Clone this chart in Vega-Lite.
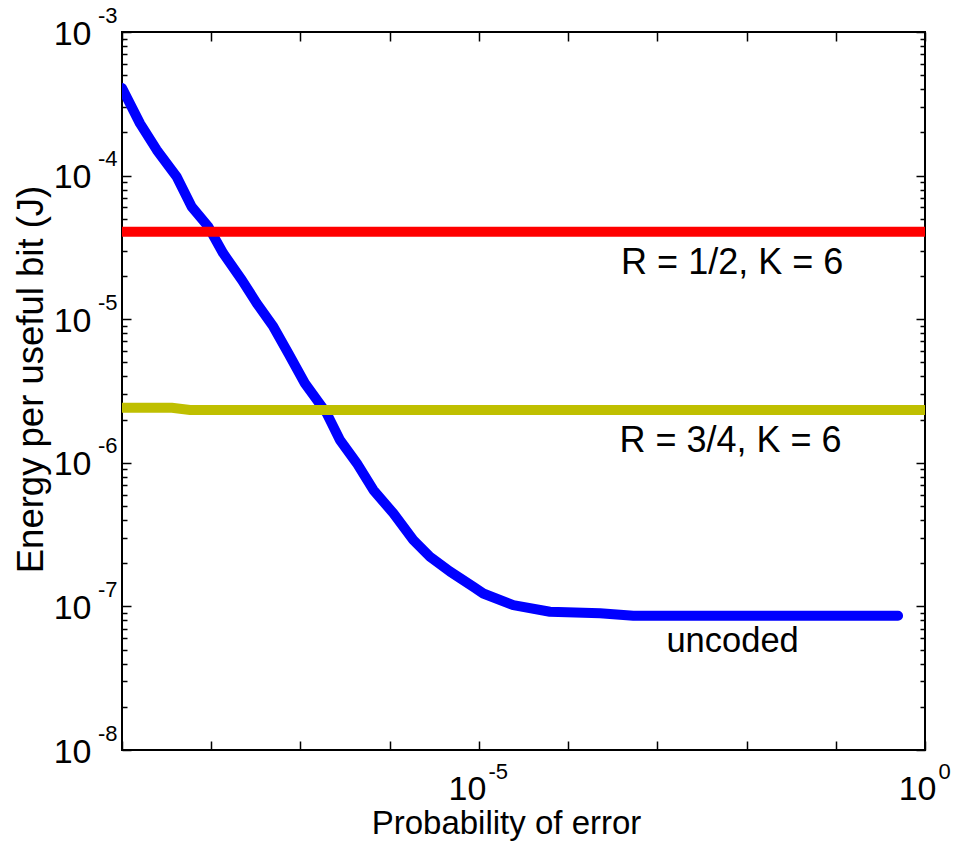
{
  "$schema": "https://vega.github.io/schema/vega-lite/v6.json",
  "width": 803,
  "height": 718,
  "autosize": {"type": "none"},
  "padding": {"left": 122, "top": 32, "right": 31, "bottom": 91},
  "background": "white",
  "config": {
    "font": "Liberation Sans",
    "view": {"stroke": "black", "strokeWidth": 2},
    "axis": {
      "grid": false, "domain": false, "tickColor": "black", "tickWidth": 1.5,
      "labelColor": "black", "titleColor": "black", "labelFont": "Liberation Sans", "titleFont": "Liberation Sans",
      "labelFlush": false, "labelOverlap": false, "labelBound": false, "titleFontWeight": "normal"
    }
  },
  "datasets": {
    "uncoded": [
      {"x": 1e-9, "y": 4.07e-4},
      {"x": 1.59e-9, "y": 2.31e-4},
      {"x": 2.45e-9, "y": 1.51e-4},
      {"x": 4.10e-9, "y": 9.82e-5},
      {"x": 6.04e-9, "y": 6.07e-5},
      {"x": 9.27e-9, "y": 4.41e-5},
      {"x": 1.36e-8, "y": 2.88e-5},
      {"x": 2.20e-8, "y": 1.88e-5},
      {"x": 3.24e-8, "y": 1.29e-5},
      {"x": 4.97e-8, "y": 8.87e-6},
      {"x": 7.31e-8, "y": 5.79e-6},
      {"x": 1.12e-7, "y": 3.58e-6},
      {"x": 1.97e-7, "y": 2.21e-6},
      {"x": 2.77e-7, "y": 1.44e-6},
      {"x": 4.28e-7, "y": 9.93e-7},
      {"x": 6.56e-7, "y": 6.47e-7},
      {"x": 1.10e-6, "y": 4.45e-7},
      {"x": 1.84e-6, "y": 2.90e-7},
      {"x": 2.83e-6, "y": 2.22e-7},
      {"x": 4.74e-6, "y": 1.75e-7},
      {"x": 8.65e-6, "y": 1.37e-7},
      {"x": 1.12e-5, "y": 1.23e-7},
      {"x": 2.43e-5, "y": 1.02e-7},
      {"x": 6.26e-5, "y": 9.18e-8},
      {"x": 2.28e-4, "y": 8.95e-8},
      {"x": 5.38e-4, "y": 8.61e-8},
      {"x": 7.05e-3, "y": 8.61e-8},
      {"x": 0.499, "y": 8.61e-8}
    ],
    "half": [
      {"x": 1e-9, "y": 4.06e-5},
      {"x": 1, "y": 4.06e-5}
    ],
    "threequarter": [
      {"x": 1e-9, "y": 2.42e-6},
      {"x": 3.63e-9, "y": 2.42e-6},
      {"x": 5.78e-9, "y": 2.33e-6},
      {"x": 1, "y": 2.33e-6}
    ],
    "notes": [
      {"label": "R = 1/2, K = 6", "x": 6.9e-3, "y": 2.06e-5},
      {"label": "R = 3/4, K = 6", "x": 6.6e-3, "y": 1.19e-6}
    ],
    "notes2": [
      {"label": "uncoded", "x": 6.97e-3, "y": 4.81e-8}
    ]
  },
  "resolve": {"axis": {"x": "independent", "y": "independent"}},
  "layer": [
    {
      "data": {"name": "uncoded"},
      "mark": {"type": "line", "color": "#0000ff", "strokeWidth": 10, "strokeCap": "round", "strokeJoin": "round", "clip": true},
      "encoding": {
        "x": {
          "field": "x", "type": "quantitative",
          "scale": {"type": "log", "domain": [1e-9, 1], "nice": false},
          "axis": {
            "orient": "bottom",
            "values": [1e-9, 1e-8, 1e-7, 1e-6, 1e-5, 1e-4, 1e-3, 1e-2, 1e-1, 1],
            "tickSize": -9,
            "labelExpr": "(round(log(datum.value)/LN10) == -5 || round(log(datum.value)/LN10) == 0) ? '10' : ''",
            "labelFontSize": 34, "labelAlign": "right", "labelBaseline": "alphabetic",
            "labelOffset": {"condition": {"test": "datum.value > 0.5", "value": 11}, "value": 7},
            "labelPadding": 58,
            "title": "Probability of error", "titleFontSize": 33, "titleX": 384, "titleY": 83,
            "titleAlign": "center", "titleBaseline": "alphabetic"
          }
        },
        "y": {
          "field": "y", "type": "quantitative",
          "scale": {"type": "log", "domain": [1e-8, 1e-3], "nice": false},
          "axis": {
            "orient": "left",
            "values": [1e-8, 1e-7, 1e-6, 1e-5, 1e-4, 1e-3],
            "tickSize": -9,
            "labelExpr": "'10'",
            "labelFontSize": 34, "labelAlign": "right", "labelBaseline": "alphabetic", "labelOffset": 12, "labelPadding": 40,
            "title": "Energy per useful bit (J)", "titleFontSize": 36.5, "titleX": -80, "titleY": 347,
            "titleAlign": "center", "titleBaseline": "alphabetic", "titleAngle": 270
          }
        }
      }
    },
    {
      "data": {"name": "half"},
      "mark": {"type": "line", "color": "#ff0000", "strokeWidth": 10, "clip": true},
      "encoding": {
        "x": {
          "field": "x", "type": "quantitative",
          "scale": {"type": "log", "domain": [1e-9, 1], "nice": false},
          "axis": {
            "orient": "bottom", "values": [1e-5, 1], "ticks": false, "tickSize": 0,
            "labelExpr": "'' + round(log(datum.value)/LN10)",
            "labelFontSize": 22, "labelAlign": "left", "labelBaseline": "alphabetic",
            "labelOffset": {"condition": {"test": "datum.value > 0.5", "value": 13}, "value": 9},
            "labelPadding": 28,
            "title": null
          }
        },
        "y": {
          "field": "y", "type": "quantitative",
          "scale": {"type": "log", "domain": [1e-8, 1e-3], "nice": false},
          "axis": {
            "orient": "left",
            "values": [2e-8, 3e-8, 4e-8, 5e-8, 6e-8, 7e-8, 8e-8, 9e-8, 2e-7, 3e-7, 4e-7, 5e-7, 6e-7, 7e-7, 8e-7, 9e-7, 2e-6, 3e-6, 4e-6, 5e-6, 6e-6, 7e-6, 8e-6, 9e-6, 2e-5, 3e-5, 4e-5, 5e-5, 6e-5, 7e-5, 8e-5, 9e-5, 2e-4, 3e-4, 4e-4, 5e-4, 6e-4, 7e-4, 8e-4, 9e-4],
            "tickSize": -5, "labels": false, "title": null
          }
        }
      }
    },
    {
      "data": {"name": "threequarter"},
      "mark": {"type": "line", "color": "#bfbf00", "strokeWidth": 10, "clip": true},
      "encoding": {
        "x": {
          "field": "x", "type": "quantitative",
          "scale": {"type": "log", "domain": [1e-9, 1], "nice": false},
          "axis": {
            "orient": "top",
            "values": [1e-9, 1e-8, 1e-7, 1e-6, 1e-5, 1e-4, 1e-3, 1e-2, 1e-1, 1],
            "tickSize": -9, "labels": false, "title": null
          }
        },
        "y": {
          "field": "y", "type": "quantitative",
          "scale": {"type": "log", "domain": [1e-8, 1e-3], "nice": false},
          "axis": {
            "orient": "left",
            "values": [1e-8, 1e-7, 1e-6, 1e-5, 1e-4, 1e-3],
            "ticks": false, "tickSize": 0,
            "labelExpr": "'' + round(log(datum.value)/LN10)",
            "labelFontSize": 22, "labelAlign": "right", "labelBaseline": "alphabetic", "labelOffset": -10, "labelPadding": 5,
            "title": null
          }
        }
      }
    },
    {
      "data": {"name": "notes"},
      "mark": {"type": "text", "fontSize": 36, "align": "center", "baseline": "alphabetic", "color": "black"},
      "encoding": {
        "text": {"field": "label"},
        "x": {"field": "x", "type": "quantitative", "scale": {"type": "log", "domain": [1e-9, 1], "nice": false}, "axis": null},
        "y": {
          "field": "y", "type": "quantitative",
          "scale": {"type": "log", "domain": [1e-8, 1e-3], "nice": false},
          "axis": {
            "orient": "right",
            "values": [1e-8, 1e-7, 1e-6, 1e-5, 1e-4, 1e-3],
            "tickSize": -9, "labels": false, "title": null
          }
        }
      }
    },
    {
      "data": {"name": "notes2"},
      "mark": {"type": "text", "fontSize": 34.5, "align": "center", "baseline": "alphabetic", "color": "black"},
      "encoding": {
        "text": {"field": "label"},
        "x": {"field": "x", "type": "quantitative", "scale": {"type": "log", "domain": [1e-9, 1], "nice": false}, "axis": null},
        "y": {
          "field": "y", "type": "quantitative",
          "scale": {"type": "log", "domain": [1e-8, 1e-3], "nice": false},
          "axis": {
            "orient": "right",
            "values": [2e-8, 3e-8, 4e-8, 5e-8, 6e-8, 7e-8, 8e-8, 9e-8, 2e-7, 3e-7, 4e-7, 5e-7, 6e-7, 7e-7, 8e-7, 9e-7, 2e-6, 3e-6, 4e-6, 5e-6, 6e-6, 7e-6, 8e-6, 9e-6, 2e-5, 3e-5, 4e-5, 5e-5, 6e-5, 7e-5, 8e-5, 9e-5, 2e-4, 3e-4, 4e-4, 5e-4, 6e-4, 7e-4, 8e-4, 9e-4],
            "tickSize": -5, "labels": false, "title": null
          }
        }
      }
    }
  ]
}
